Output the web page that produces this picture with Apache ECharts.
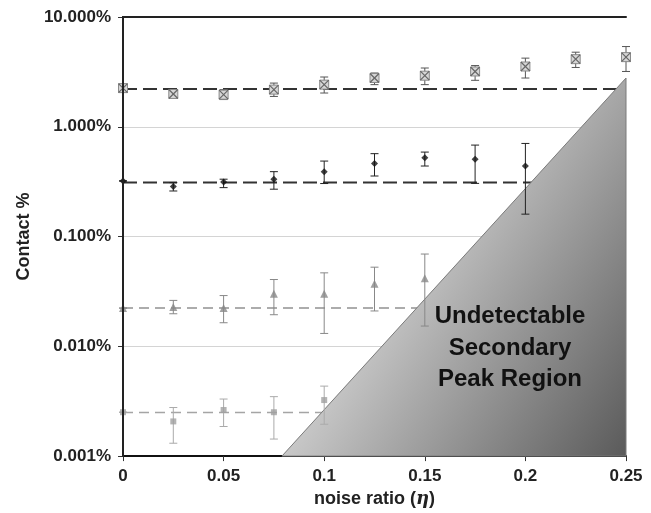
<!DOCTYPE html>
<html>
<head>
<meta charset="utf-8">
<script src="https://cdn.jsdelivr.net/npm/echarts@6/dist/echarts.min.js"></script>
<style>
  html, body { margin: 0; padding: 0; background: #fff; }
  #chart { width: 651px; height: 513px; }
</style>
</head>
<body>
<div id="chart"></div>
<script>
// noise ratio values (x)
const noise = [0, 0.025, 0.05, 0.075, 0.1, 0.125, 0.15, 0.175, 0.2, 0.225, 0.25];

// contact % per peak, with error bar low / high
const topVal = [2.25, 1.99, 1.96, 2.18, 2.42, 2.78, 2.92, 3.19, 3.54, 4.13, 4.31];
const topLo  = [2.25, 1.90, 1.77, 1.89, 2.03, 2.42, 2.42, 2.65, 2.78, 3.47, 3.19];
const topHi  = [2.25, 2.08, 2.18, 2.50, 2.84, 3.09, 3.43, 3.61, 4.22, 4.78, 5.38];

const secVal = [0.321, 0.285, 0.314, 0.333, 0.39, 0.464, 0.523, 0.505, 0.439];
const secLo  = [0.321, 0.260, 0.279, 0.270, 0.304, 0.356, 0.439, 0.305, 0.16];
const secHi  = [0.321, 0.310, 0.333, 0.390, 0.487, 0.569, 0.588, 0.681, 0.705];

const thirdVal = [0.0223, 0.0228, 0.0223, 0.0301, 0.0301, 0.0371, 0.0418];
const thirdLo  = [0.0223, 0.0198, 0.0164, 0.0194, 0.0131, 0.0210, 0.0153];
const thirdHi  = [0.0223, 0.0262, 0.0290, 0.0406, 0.0467, 0.0526, 0.0693];

const fourthVal = [0.00251, 0.00207, 0.00263, 0.00251, 0.00324];
const fourthLo  = [0.00251, 0.00131, 0.00186, 0.00143, 0.00195];
const fourthHi  = [0.00251, 0.00277, 0.00331, 0.00348, 0.00434];

// dashed reference levels
const levels = [2.21, 0.31, 0.0224, 0.0025];

// undetectable region corners
const regionX = [0.079, 0.25, 0.25];
const regionY = [0.001, 0.001, 2.78];

const FONT = "'Liberation Sans', Arial, sans-serif";

const chart = echarts.init(document.getElementById('chart'));

const points = (vals) => vals.map((v, i) => [noise[i], v]);
const bars = (lo, hi) => lo.map((l, i) => [noise[i], l, hi[i]]);

function errorBars(color) {
    return (params, api) => {
        const x = api.value(0);
        const a = api.coord([x, api.value(1)]);
        const b = api.coord([x, api.value(2)]);
        const st = { stroke: color, lineWidth: 1 };
        return {
            type: 'group',
            children: [
                { type: 'line', shape: { x1: a[0], y1: a[1], x2: b[0], y2: b[1] }, style: st },
                { type: 'line', shape: { x1: a[0] - 4, y1: a[1], x2: a[0] + 4, y2: a[1] }, style: st },
                { type: 'line', shape: { x1: b[0] - 4, y1: b[1], x2: b[0] + 4, y2: b[1] }, style: st }
            ]
        };
    };
}

function errSeries(lo, hi, color) {
    return {
        type: 'custom',
        z: 4,
        renderItem: errorBars(color),
        data: bars(lo, hi)
    };
}

function levelLine(v, color, width, dash) {
    return {
        type: 'line',
        z: 1,
        symbol: 'none',
        silent: true,
        lineStyle: { color: color, width: width, type: dash },
        data: [[0, v], [0.25, v]]
    };
}

const option = {
    animation: false,
    grid: { left: 123, right: 25, top: 17, bottom: 55 },
    xAxis: [{
        type: 'value',
        min: 0,
        max: 0.25,
        interval: 0.05,
        axisLine: { lineStyle: { color: '#111', width: 2 } },
        axisTick: { length: 5, lineStyle: { color: '#333' } },
        splitLine: { show: false },
        axisLabel: { margin: 12, color: '#222', fontSize: 17, fontWeight: 'bold', fontFamily: FONT },
        name: 'noise ratio ({i|η})',
        nameLocation: 'middle',
        nameGap: 33,
        nameTextStyle: {
            color: '#222', fontSize: 18, fontWeight: 'bold', fontFamily: FONT,
            rich: { i: { fontStyle: 'italic', fontWeight: 'bold', fontSize: 18, fontFamily: "'DejaVu Serif', serif", color: '#222' } }
        }
    }, {
        type: 'value',
        position: 'top',
        min: 0,
        max: 0.25,
        z: 10,
        axisLine: { show: true, lineStyle: { color: '#222', width: 2 } },
        axisTick: { show: false },
        axisLabel: { show: false },
        splitLine: { show: false }
    }],
    yAxis: [{
        type: 'log',
        logBase: 10,
        min: 0.001,
        max: 10,
        axisLine: { show: true, lineStyle: { color: '#111', width: 2 } },
        axisTick: { show: true, length: 5, lineStyle: { color: '#333' } },
        splitLine: { lineStyle: { color: '#d4d4d4', width: 1 } },
        axisLabel: {
            margin: 12, color: '#222', fontSize: 17, fontWeight: 'bold', fontFamily: FONT,
            formatter: v => Number(v).toFixed(3) + '%'
        },
        name: 'Contact %',
        nameLocation: 'middle',
        nameGap: 90,
        nameTextStyle: { color: '#222', fontSize: 18, fontWeight: 'bold', fontFamily: FONT }
    }, {
        type: 'log',
        position: 'right',
        min: 0.001,
        max: 10,
        z: 10,
        axisLine: { show: true, lineStyle: { color: '#222', width: 2 } },
        axisTick: { show: false },
        axisLabel: { show: false },
        splitLine: { show: false }
    }],
    graphic: [{
        type: 'text',
        z: 100,
        x: 510,
        y: 301,
        style: {
            text: 'Undetectable\nSecondary\nPeak Region',
            align: 'center',
            verticalAlign: 'top',
            font: "bold 24px " + FONT,
            lineHeight: 31.5,
            fill: '#111'
        }
    }],
    series: [
        levelLine(levels[0], '#333', 2, [14, 6]),
        levelLine(levels[1], '#333', 2, [14, 6]),
        levelLine(levels[2], '#919191', 1.5, [10, 6]),
        levelLine(levels[3], '#a5a5a5', 1.5, [10, 6]),
        {
            // undetectable secondary peak region
            type: 'custom',
            z: 2,
            silent: true,
            renderItem: (params, api) => {
                if (params.dataIndex !== 0) return;
                const pts = regionX.map((x, i) => api.coord([x, regionY[i]]));
                return {
                    type: 'polygon',
                    shape: { points: pts },
                    style: {
                        fill: new echarts.graphic.LinearGradient(0, 0, 1.3, 0.755, [
                            { offset: 0.3, color: '#d9d9d9' },
                            { offset: 1, color: '#4c4c4c' }
                        ]),
                        stroke: '#7a7a7a',
                        lineWidth: 1
                    }
                };
            },
            data: [[regionX[0], regionY[0]]]
        },
        errSeries(topLo, topHi, '#555'),
        errSeries(secLo, secHi, '#222'),
        errSeries(thirdLo, thirdHi, '#888'),
        errSeries(fourthLo, fourthHi, '#aaa'),
        {
            // boxed X markers
            type: 'custom',
            z: 5,
            renderItem: (params, api) => {
                const p = api.coord([api.value(0), api.value(1)]);
                const h = 4.5;
                return {
                    type: 'group',
                    children: [
                        { type: 'rect', shape: { x: p[0] - h, y: p[1] - h, width: 2 * h, height: 2 * h },
                          style: { fill: '#d6d6d6', stroke: '#8a8a8a', lineWidth: 1 } },
                        { type: 'line', shape: { x1: p[0] - h, y1: p[1] - h, x2: p[0] + h, y2: p[1] + h },
                          style: { stroke: '#666', lineWidth: 1.2 } },
                        { type: 'line', shape: { x1: p[0] - h, y1: p[1] + h, x2: p[0] + h, y2: p[1] - h },
                          style: { stroke: '#666', lineWidth: 1.2 } }
                    ]
                };
            },
            data: points(topVal)
        },
        {
            type: 'scatter', z: 5, symbol: 'diamond', symbolSize: 7,
            itemStyle: { color: '#111' },
            data: points(secVal)
        },
        {
            type: 'scatter', z: 5, symbol: 'triangle', symbolSize: 8,
            itemStyle: { color: '#888' },
            data: points(thirdVal)
        },
        {
            type: 'scatter', z: 5, symbol: 'rect', symbolSize: 6,
            itemStyle: { color: '#a0a0a0' },
            data: points(fourthVal)
        }
    ]
};

chart.setOption(option);
</script>
</body>
</html>
